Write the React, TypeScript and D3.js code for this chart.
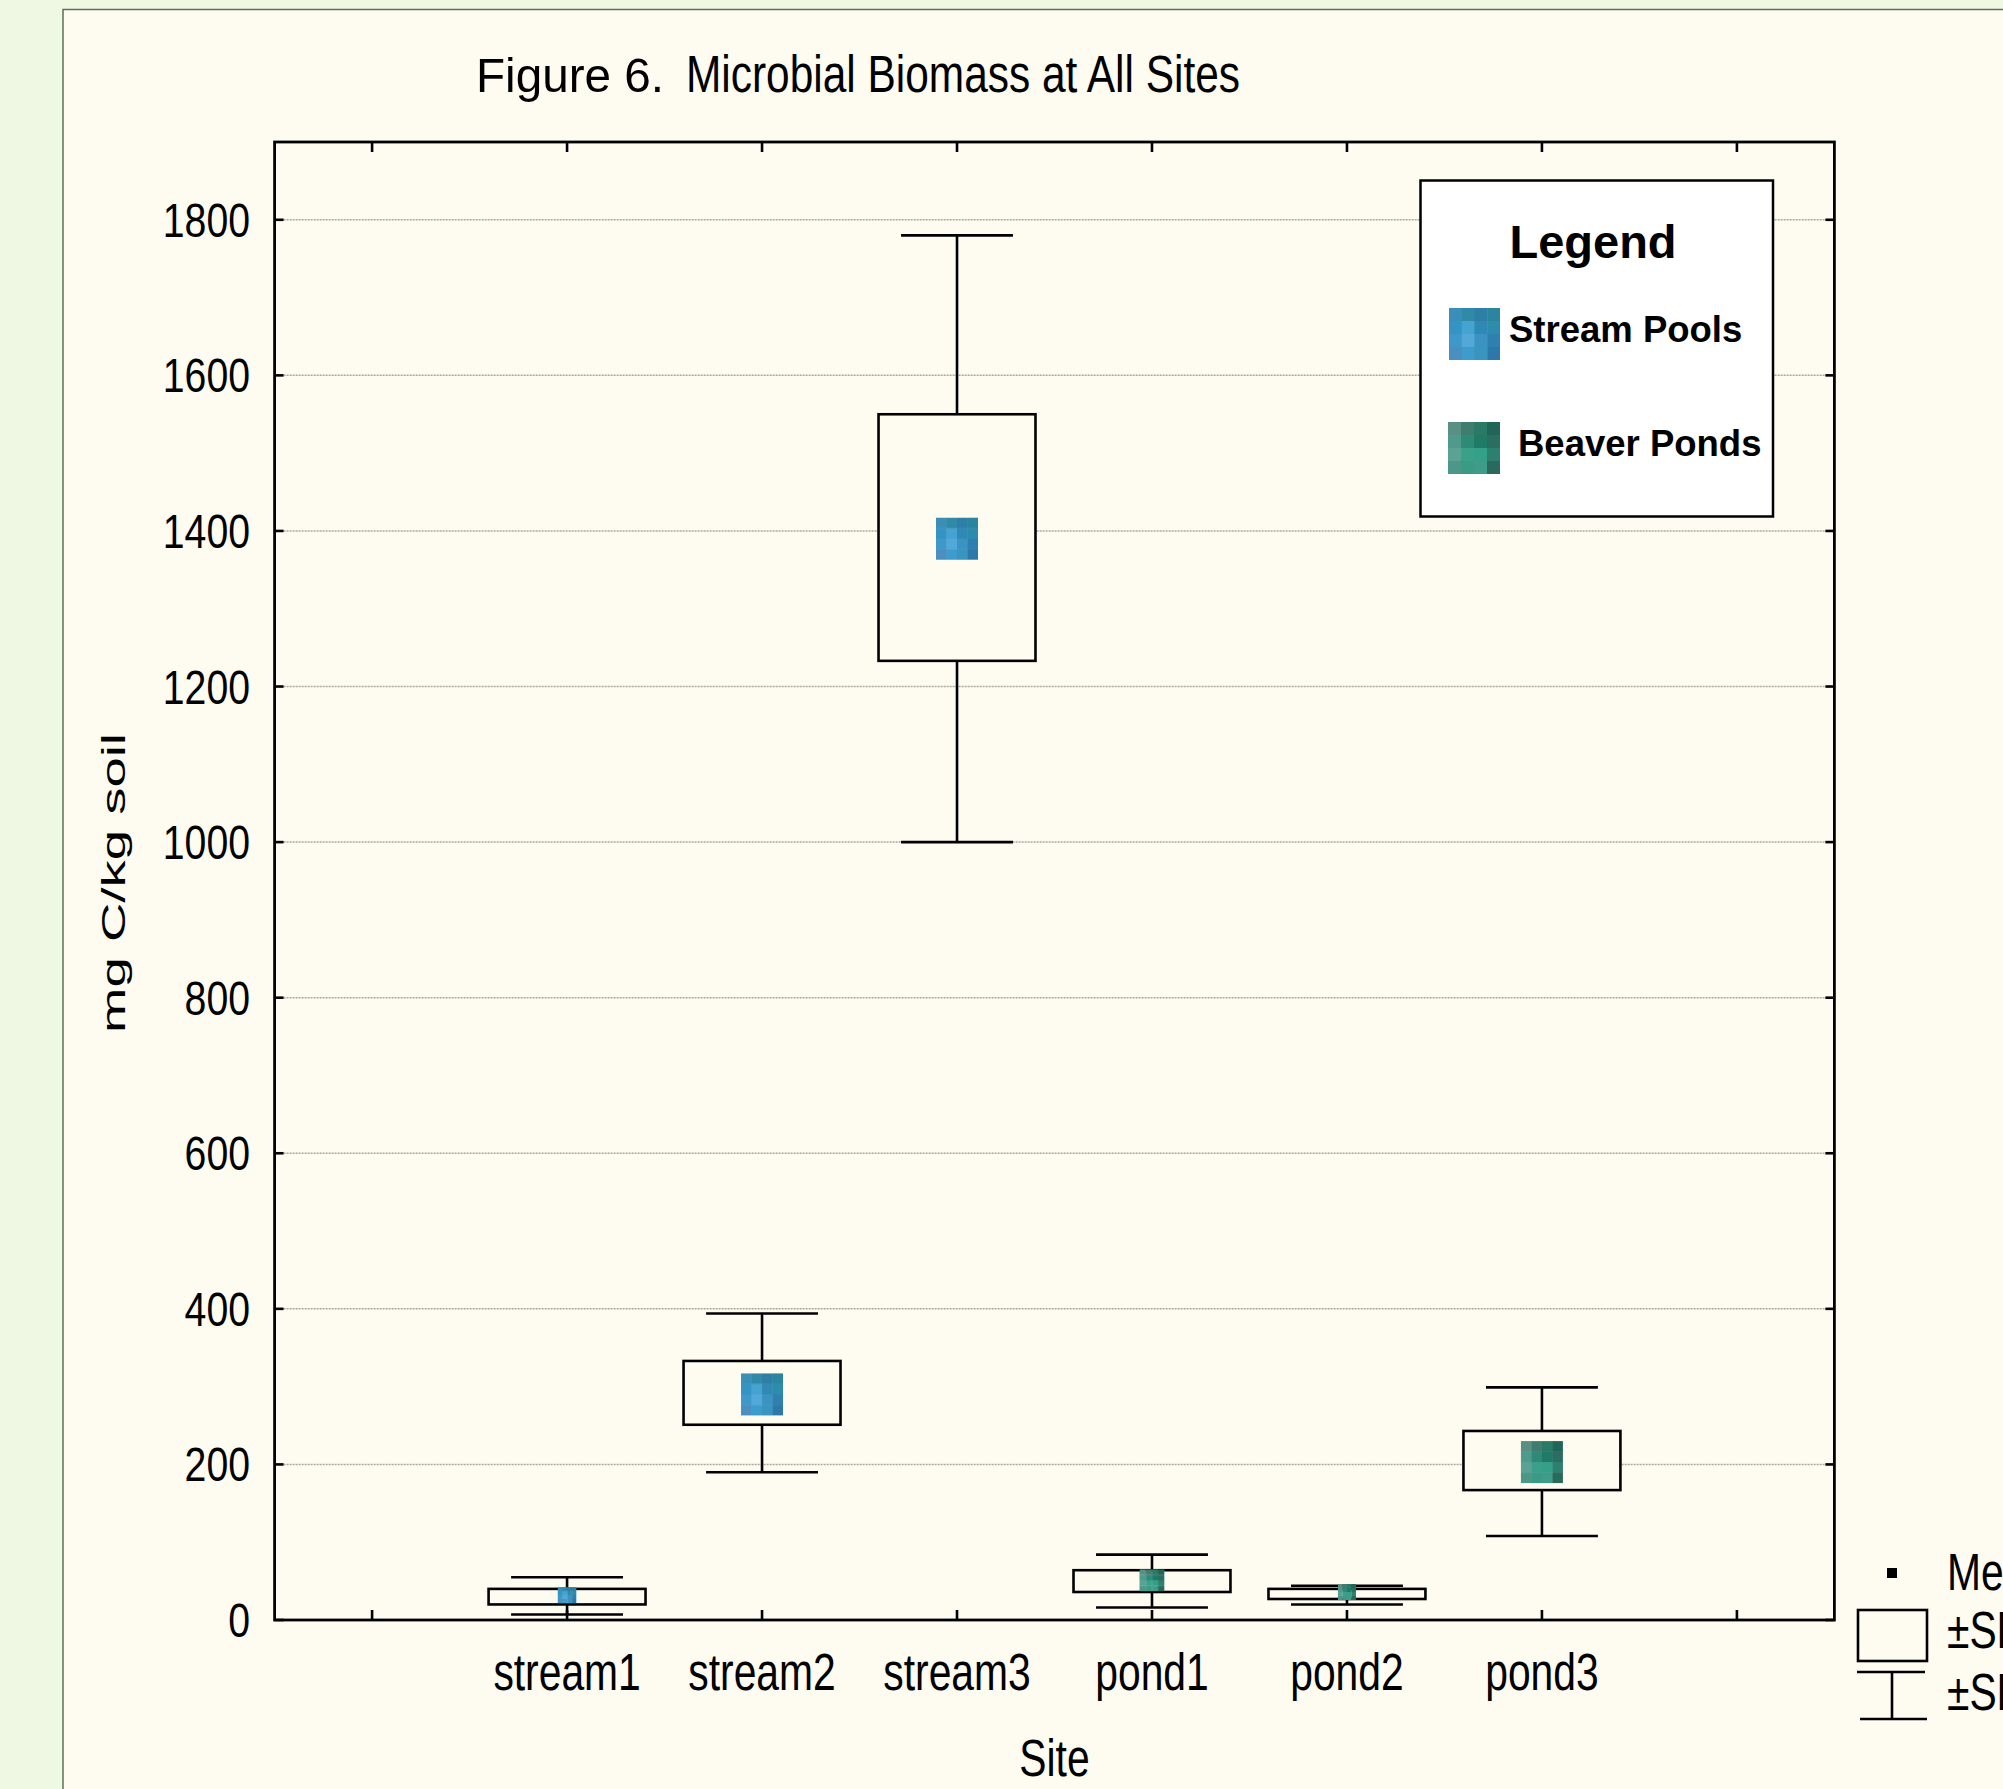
import React from "react";
import * as d3 from "d3";

const sites = ["stream1", "stream2", "stream3", "pond1", "pond2", "pond3"];
const groups = ["stream", "stream", "stream", "pond", "pond", "pond"];
const means = [32, 290, 1390, 51, 36, 203];
const seLow = [20, 251, 1233, 36, 27, 167];
const seHigh = [40, 333, 1550, 64, 40, 243];
const sdLow = [7, 190, 1000, 16, 20, 108];
const sdHigh = [55, 394, 1780, 84, 44, 299];
const yTicks = [0, 200, 400, 600, 800, 1000, 1200, 1400, 1600, 1800];
const legendItems = [
  { key: "stream", label: "Stream Pools" },
  { key: "pond", label: "Beaver Ponds" },
];
const statLabels = ["Mean", "\u00b1SE", "\u00b1SD"];

const W = 2003;
const H = 1789;
const plot = { left: 274.6, right: 1834.4, top: 142, bottom: 1620 };
const panelColor = "#fefcf1";
const outerColor = "#eff8e3";
const FONT = "'Liberation Sans', Arial, sans-serif";
const SX = 0.8;

const streamCells = [
  ["#3a8fb8", "#2f8aa8", "#2d7fa6", "#2a86a0"],
  ["#3494c4", "#46a2d0", "#3089b5", "#2b8cab"],
  ["#3e98c9", "#52a8d8", "#3a93c2", "#2f7fb0"],
  ["#4a8fc0", "#3c9ccc", "#3a95be", "#2c78a8"],
];
const pondCells = [
  ["#5a8f84", "#3f7d70", "#2a7a66", "#1f6656"],
  ["#4f9a8c", "#2e8a76", "#1f7a66", "#2a6e60"],
  ["#5aa294", "#3aa08a", "#35a088", "#2d7f6e"],
  ["#4c968a", "#3a9a84", "#3e9c88", "#2a6a5c"],
];

function CondText({ x, y, anchor = "start", size = 50, children }: any) {
  return (
    <text
      transform={`translate(${x},${y}) scale(${SX},1)`}
      textAnchor={anchor}
      fontFamily={FONT}
      fontSize={size}
      fill="#000"
    >
      {children}
    </text>
  );
}

function Pattern({ id, cells }: { id: string; cells: string[][] }) {
  const n = cells.length;
  return (
    <pattern id={id} patternContentUnits="objectBoundingBox" width="1" height="1">
      {cells.map((row, r) =>
        row.map((c, k) => (
          <rect key={`${r}-${k}`} x={k / n} y={r / n} width={1 / n + 0.01} height={1 / n + 0.01} fill={c} />
        ))
      )}
    </pattern>
  );
}

export default function App() {
  const slots = ["_l", ...sites, "_r"];
  const x = d3.scaleBand<string>().domain(slots).range([plot.left, plot.right]);
  const bw = x.bandwidth();
  const cx = (s: string) => (x(s) as number) + bw / 2;
  const y = d3.scaleLinear().domain([0, 1900]).range([plot.bottom, plot.top]);
  const boxW = bw * 0.805;
  const capW = bw * 0.574;
  const tick = 9;
  const sw = 2.6;

  return (
    <svg
      width={W}
      height={H}
      style={{ position: "absolute", left: 0, top: 0, display: "block" }}
    >
      <defs>
        <Pattern id="pat-stream" cells={streamCells} />
        <Pattern id="pat-pond" cells={pondCells} />
      </defs>
      <rect x={0} y={0} width={W} height={H} fill={outerColor} />
      <rect x={63} y={9.5} width={W} height={H} fill={panelColor} stroke="#5f6f5c" strokeWidth={1.5} />

      {/* title */}
      <text x={476} y={92} fontFamily={FONT} fontSize={49} textLength={188} lengthAdjust="spacingAndGlyphs">
        Figure 6.
      </text>
      <text x={686} y={92} fontFamily={FONT} fontSize={51} textLength={554} lengthAdjust="spacingAndGlyphs">
        Microbial Biomass at All Sites
      </text>

      {/* grid */}
      {yTicks.filter((t) => t > 0).map((t) => (
        <line
          key={`g${t}`}
          x1={plot.left}
          x2={plot.right}
          y1={y(t)}
          y2={y(t)}
          stroke="#a9a79f"
          strokeWidth={1.5}
          strokeDasharray="2,1"
        />
      ))}

      {/* y ticks and labels */}
      {yTicks.map((t) => (
        <g key={`yt${t}`}>
          <line x1={plot.left} x2={plot.left + tick} y1={y(t)} y2={y(t)} stroke="#000" strokeWidth={sw} />
          <line x1={plot.right - tick} x2={plot.right} y1={y(t)} y2={y(t)} stroke="#000" strokeWidth={sw} />
          <CondText x={250} y={y(t) + 17} anchor="end" size={49}>
            {t}
          </CondText>
        </g>
      ))}

      {/* x ticks */}
      {slots.map((s) => (
        <g key={`xt${s}`}>
          <line x1={cx(s)} x2={cx(s)} y1={plot.bottom} y2={plot.bottom - tick - 1} stroke="#000" strokeWidth={sw} />
          <line x1={cx(s)} x2={cx(s)} y1={plot.top} y2={plot.top + tick + 1} stroke="#000" strokeWidth={sw} />
        </g>
      ))}
      {sites.map((s) => (
        <CondText key={`xl${s}`} x={cx(s)} y={1690} anchor="middle" size={51}>
          {s}
        </CondText>
      ))}

      {/* boxes */}
      {sites.map((s, i) => {
        const c = cx(s);
        const yTop = y(seHigh[i]);
        const yBot = y(seLow[i]);
        const boxPx = yBot - yTop;
        const mh = Math.max(16, Math.min(42, boxPx));
        const mw = Math.max(18, Math.min(42, boxPx + 3));
        return (
          <g key={`b${s}`}>
            <line x1={c} x2={c} y1={y(sdHigh[i])} y2={yTop} stroke="#000" strokeWidth={sw} />
            <line x1={c} x2={c} y1={yBot} y2={y(sdLow[i])} stroke="#000" strokeWidth={sw} />
            <line x1={c - capW / 2} x2={c + capW / 2} y1={y(sdHigh[i])} y2={y(sdHigh[i])} stroke="#000" strokeWidth={sw} />
            <line x1={c - capW / 2} x2={c + capW / 2} y1={y(sdLow[i])} y2={y(sdLow[i])} stroke="#000" strokeWidth={sw} />
            <rect
              x={c - boxW / 2}
              y={yTop}
              width={boxW}
              height={boxPx}
              fill={panelColor}
              stroke="#000"
              strokeWidth={sw}
            />
            <rect
              x={c - mw / 2}
              y={y(means[i]) - mh / 2}
              width={mw}
              height={mh}
              fill={`url(#pat-${groups[i]})`}
            />
          </g>
        );
      })}

      {/* frame */}
      <rect
        x={plot.left}
        y={plot.top}
        width={plot.right - plot.left}
        height={plot.bottom - plot.top}
        fill="none"
        stroke="#000"
        strokeWidth={2.8}
      />

      {/* axis titles */}
      <CondText x={(plot.left + plot.right) / 2} y={1776} anchor="middle" size={51}>
        Site
      </CondText>
      <text
        transform={`translate(125,883) rotate(-90)`}
        textAnchor="middle"
        fontFamily={FONT}
        fontSize={34}
        textLength={300}
        lengthAdjust="spacingAndGlyphs"
      >
        mg C/kg soil
      </text>

      {/* legend */}
      <rect x={1420.5} y={180.5} width={352.5} height={336} fill="#ffffff" stroke="#000" strokeWidth={2.5} />
      <text x={1593} y={258} textAnchor="middle" fontFamily={FONT} fontWeight="bold" fontSize={47}>
        Legend
      </text>
      {legendItems.map((it, i) => (
        <g key={it.key}>
          <rect x={i === 0 ? 1449 : 1448} y={i === 0 ? 308 : 422} width={i === 0 ? 51 : 52} height={52} fill={`url(#pat-${it.key})`} />
          <text
            x={i === 0 ? 1509 : 1518}
            y={i === 0 ? 342 : 456}
            fontFamily={FONT}
            fontWeight="bold"
            fontSize={36.5}
          >
            {it.label}
          </text>
        </g>
      ))}

      {/* statistics key */}
      <rect x={1887} y={1568} width={10} height={10} fill="#000" />
      <rect x={1858} y={1610} width={69} height={51} fill="none" stroke="#000" strokeWidth={2.6} />
      <line x1={1857} x2={1925} y1={1672} y2={1672} stroke="#000" strokeWidth={2.6} />
      <line x1={1892} x2={1892} y1={1672} y2={1719} stroke="#000" strokeWidth={2.6} />
      <line x1={1860} x2={1927} y1={1719} y2={1719} stroke="#000" strokeWidth={2.6} />
      {statLabels.map((l, i) => (
        <CondText key={l} x={1947} y={[1590, 1648, 1710][i]} size={51}>
          {l}
        </CondText>
      ))}
    </svg>
  );
}
